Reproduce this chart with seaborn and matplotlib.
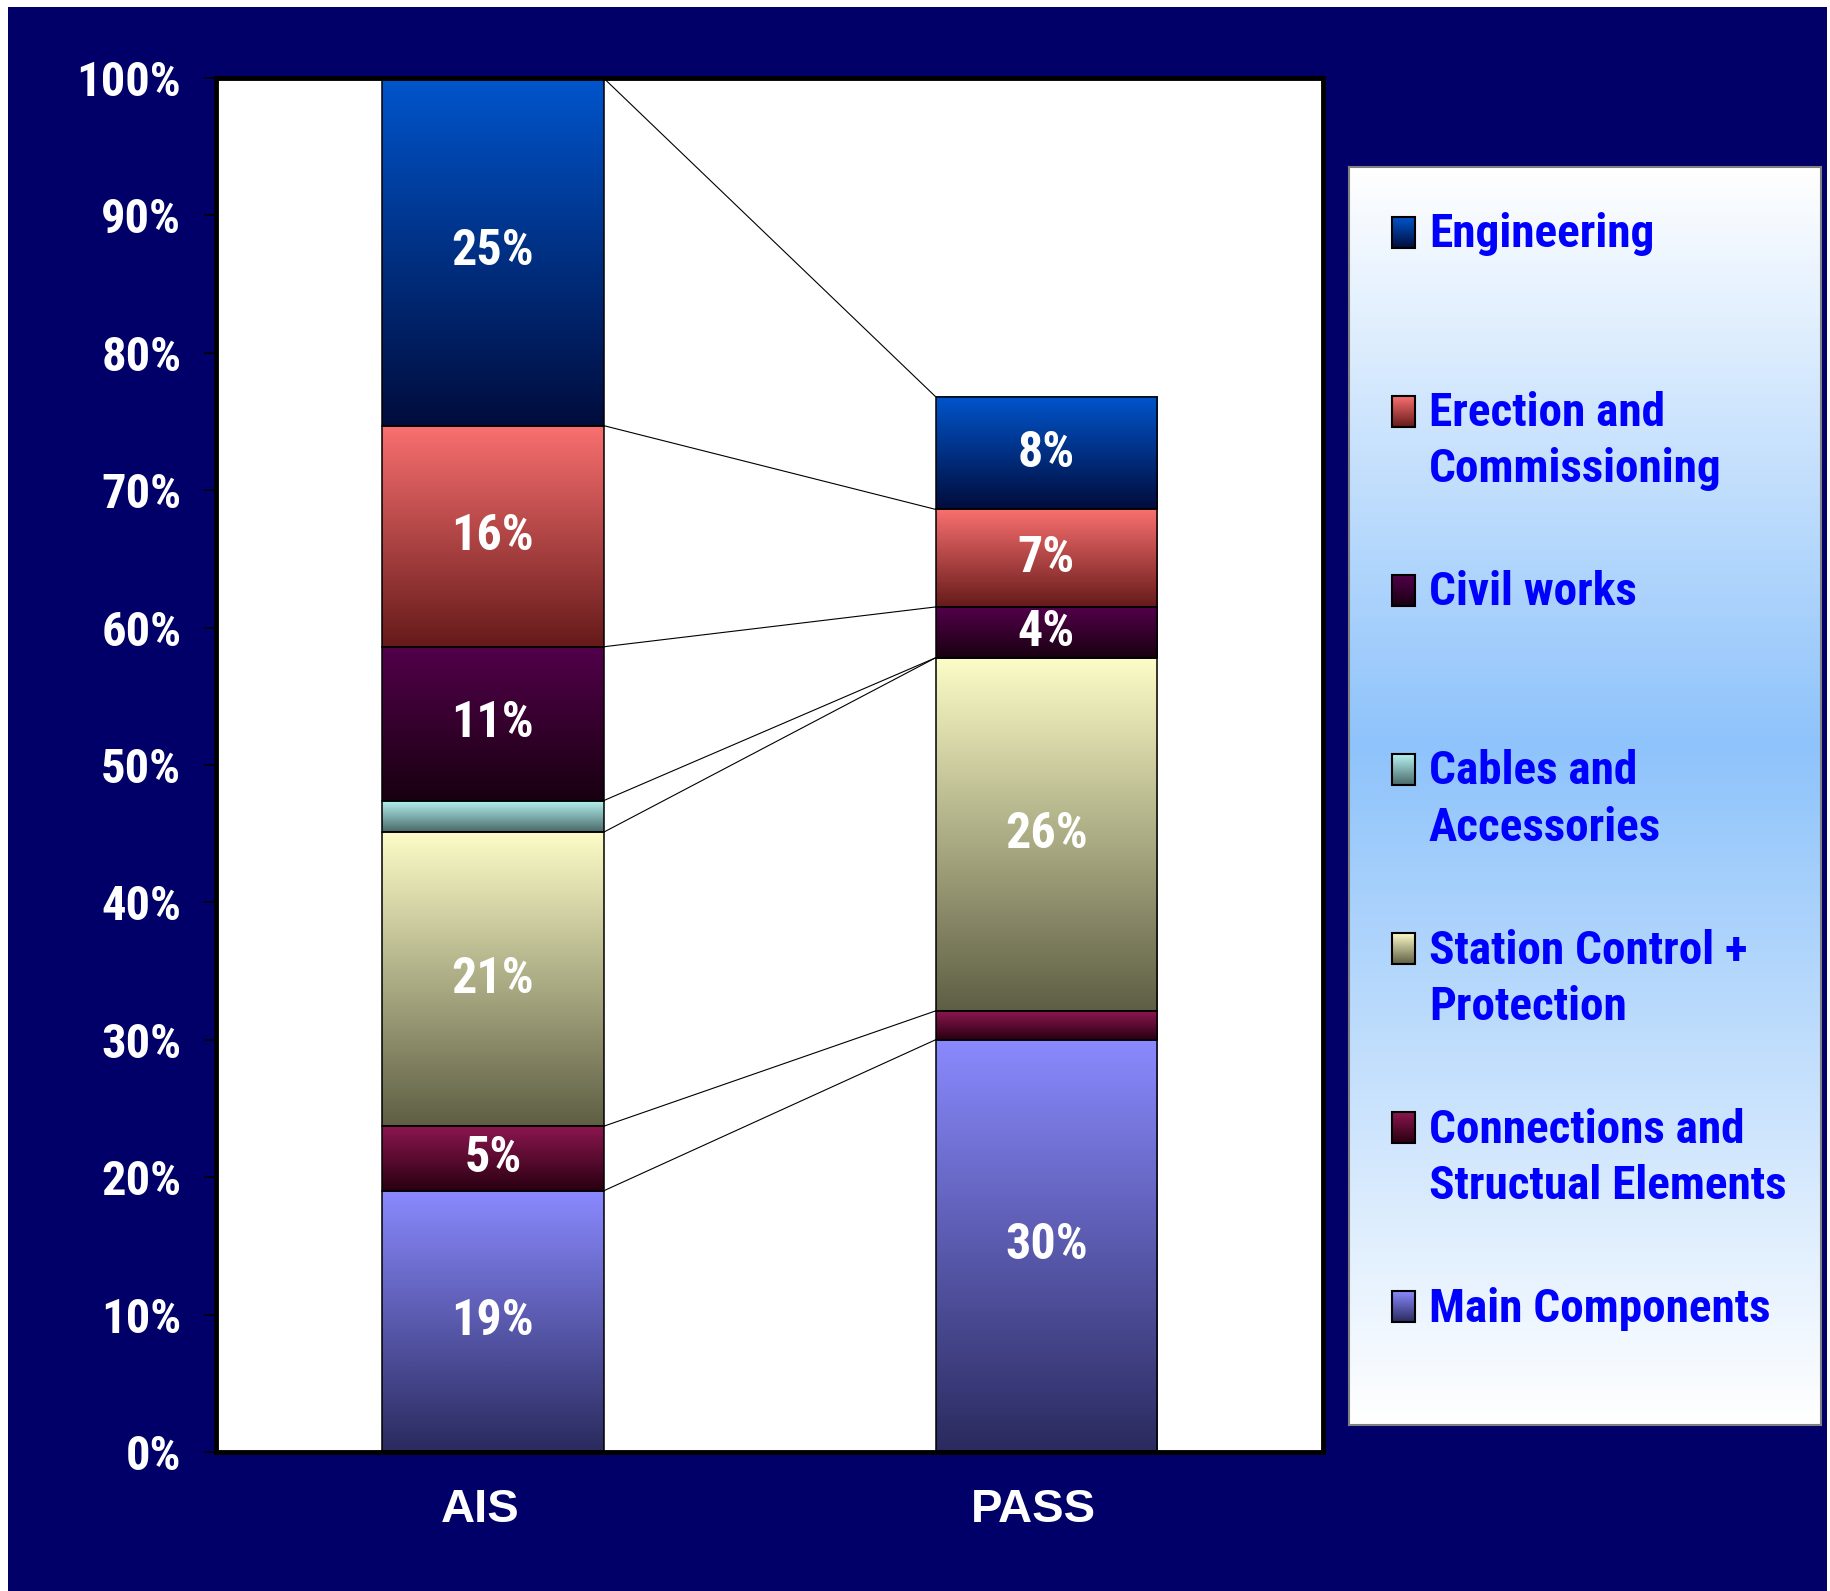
import numpy as np
import pandas as pd
import matplotlib
matplotlib.use("Agg")
import matplotlib.pyplot as plt
from matplotlib.colors import LinearSegmentedColormap
from matplotlib.patches import Rectangle
from matplotlib.transforms import ScaledTranslation
from matplotlib import font_manager
import seaborn as sns

# data, stacked from the bottom up (percent of AIS total cost)
categories = ["AIS", "PASS"]
components = ["Main Components", "Connections and\nStructual Elements",
              "Station Control +\nProtection", "Cables and\nAccessories",
              "Civil works", "Erection and\nCommissioning", "Engineering"]
main_components = [19.0, 30.0]
connections = [4.7, 2.1]
station_control = [21.4, 25.7]
cables = [2.3, 0.0]
civil_works = [11.2, 3.7]
erection = [16.1, 7.1]
engineering = [25.3, 8.2]
yticks = [0, 10, 20, 30, 40, 50, 60, 70, 80, 90, 100]

series = [main_components, connections, station_control, cables,
          civil_works, erection, engineering]
# (top colour, bottom colour) of each gradient fill
gradients = [("#8a8aff", "#2a2a5e"), ("#8c1650", "#280010"),
             ("#fdfdc8", "#5e5e44"), ("#b8f4f4", "#486868"),
             ("#52004a", "#180010"), ("#fa7070", "#661a1a"),
             ("#0055cc", "#000c3c")]

NAVY = "#000068"

sns.set_theme(style="white")

# look for a narrow bold face (the original uses Arial Narrow Bold)
ttf = font_manager.fontManager.ttflist
names = {f.name for f in ttf}
narrow = None
for n in ["Liberation Sans Narrow", "Arial Narrow", "Roboto Condensed",
          "Open Sans Condensed", "Noto Sans Condensed", "DejaVu Sans Condensed"]:
    if n in names:
        narrow = dict(family=[n, "DejaVu Sans"])
        break
if narrow is None:
    cond = [f for f in ttf if f.stretch in ("condensed", "semi-condensed", "extra-condensed")
            and f.name in ("Noto Sans", "DejaVu Sans", "Open Sans", "Roboto", "Inter", "Lato")]
    if cond:
        narrow = dict(family=[cond[0].name, "DejaVu Sans"], fontstretch=cond[0].stretch)
if narrow is None:
    narrow = dict(family=["Liberation Sans", "DejaVu Sans"])
    fs_tick, fs_val, fs_leg = 29, 31, 27
else:
    fs_tick, fs_val, fs_leg = 35, 36, 34
wide = ["Liberation Sans", "Arial", "DejaVu Sans"]
plt.rcParams["font.family"] = narrow["family"]

fig = plt.figure(figsize=(18.31, 15.91), dpi=100)
fig.patch.set_facecolor("white")
fig.patches.append(Rectangle((0.0044, 0), 0.9934, 0.9956, transform=fig.transFigure,
                             facecolor=NAVY, edgecolor="none", zorder=-10))

ax = fig.add_axes([0.118, 0.0874, 0.6046, 0.8636])
ax.set_facecolor("white")

grad = np.linspace(0, 1, 256).reshape(-1, 1)
bottoms = np.zeros(len(categories))
segments = []
for vals, (top_c, bot_c) in zip(series, gradients):
    n_before = len(ax.patches)
    sns.barplot(x=categories, y=vals, bottom=bottoms, color=top_c, saturation=1,
                width=0.4, errorbar=None, edgecolor="black", linewidth=1.1, ax=ax)
    cmap = LinearSegmentedColormap.from_list("g", [bot_c, top_c])
    new = ax.patches[n_before:]
    for p, v in zip(new, vals):
        x0, y0, w, h = p.get_x(), p.get_y(), p.get_width(), p.get_height()
        if h > 0:
            ax.imshow(grad, cmap=cmap, extent=(x0, x0 + w, y0, y0 + h), aspect="auto",
                      origin="lower", zorder=2, interpolation="bicubic")
        p.set_facecolor("none")
        p.set_zorder(3)
        if v >= 3:
            ax.text(x0 + w / 2, y0 + h / 2, f"{v:.0f}%", color="white", fontsize=fs_val,
                    fontweight="bold", ha="center", va="center", zorder=4, **narrow)
    segments.append(new)
    bottoms = bottoms + np.array(vals)

# series lines between the segment tops of the two bars
for pair in segments:
    a, b = pair[0], pair[1]
    ax.plot([a.get_x() + a.get_width(), b.get_x()],
            [a.get_y() + a.get_height(), b.get_y() + b.get_height()],
            color="black", lw=0.8, zorder=1.5)

ax.set_xlim(-0.5, 1.5)
ax.set_ylim(0, 100)
ax.set_yticks(yticks)
ax.set_yticklabels([f"{t}%" for t in yticks])
ax.grid(False)
ax.set_xlabel("")
ax.set_ylabel("")
for s in ax.spines.values():
    s.set_visible(True)
    s.set_color("black")
    s.set_linewidth(3.5)
ax.tick_params(axis="y", left=True, length=9, width=1.2, color="black", pad=16,
               labelsize=fs_tick, labelcolor="white")
ax.tick_params(axis="x", bottom=False, length=0, pad=26, labelsize=34, labelcolor="white")
for lbl in ax.get_yticklabels():
    lbl.set_fontweight("bold")
    if "fontstretch" in narrow:
        lbl.set_fontstretch(narrow["fontstretch"])
# category names sit a little left of the bar centres in the original
shift = ScaledTranslation(-0.13, 0, fig.dpi_scale_trans)
for lbl in ax.get_xticklabels():
    lbl.set_fontfamily(wide)
    lbl.set_fontweight("bold")
    lbl.set_transform(lbl.get_transform() + shift)

# legend box with its own gradient background
lax = fig.add_axes([0.7368, 0.1043, 0.2578, 0.7907])
bg = LinearSegmentedColormap.from_list("bg", [(0, "#ffffff"), (0.54, "#8ec3fb"), (1, "#ffffff")])
lax.imshow(grad, cmap=bg, extent=(0, 1, 0, 1), aspect="auto", origin="lower", zorder=0)
lax.set_xticks([])
lax.set_yticks([])
for s in lax.spines.values():
    s.set_color("#808080")
    s.set_linewidth(1.5)

for i, idx in enumerate(range(len(components) - 1, -1, -1)):
    yc = 1 - (0.0517 + i * 0.1424)
    top_c, bot_c = gradients[idx]
    cmap = LinearSegmentedColormap.from_list("g", [bot_c, top_c])
    lax.imshow(grad, cmap=cmap, extent=(0.091, 0.140, yc - 0.0123, yc + 0.0123),
               aspect="auto", origin="lower", zorder=2)
    lax.add_patch(Rectangle((0.091, yc - 0.0123), 0.049, 0.0246, facecolor="none",
                            edgecolor="black", lw=1.5, zorder=3))
    lax.text(0.169, yc + 0.016 * fs_leg / 34, components[idx], color="#0000ff",
             fontsize=fs_leg, fontweight="bold", ha="left", va="top", linespacing=1.35,
             zorder=4, **narrow)
lax.set_xlim(0, 1)
lax.set_ylim(0, 1)

fig.savefig("out.png", dpi=100)
